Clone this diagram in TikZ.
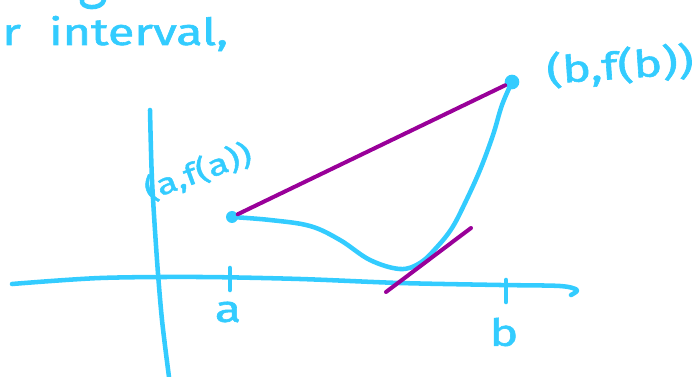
\documentclass[tikz,border=0pt]{standalone}
\usepackage{fontspec}
\newfontfamily\hand[FakeStretch=1.3, FakeBold=1.6]{Fira Sans}
\usetikzlibrary{positioning}

\definecolor{ink}{RGB}{51,204,255}
\definecolor{pen}{RGB}{153,0,153}

\begin{document}
\begin{tikzpicture}[
  x=0.75pt, y=-0.75pt,
  stroke/.style={
    draw=ink, line width=3.4pt,
    line cap=round, line join=round
  },
  secant/.style={
    draw=pen, line width=3pt,
    line cap=round, line join=round
  },
  dot/.style={
    circle, fill=ink, inner sep=0pt, minimum size=9pt
  },
  lbl/.style={
    text=ink, inner sep=0pt,
    font=\hand\fontsize{28}{30}\selectfont
  }
]
\useasboundingbox (0,0) rectangle (699,377);

% ─── Text from the line above ───────────────────────────────
\node[lbl, anchor=base west] (head) at (2,45) {r\hspace{0.75em}interval,};
\draw[stroke] (82,0) .. controls (80,9) and (102,10) .. (104,0);

% ─── Axes ───────────────────────────────────────────────────
\draw[stroke] plot[smooth] coordinates {(12,284) (100,278) (200,277)
  (300,279) (400,283) (500,285) (560,286) (577,290) (571,295)};
\draw[stroke] plot[smooth] coordinates {(150,110) (152,180) (157,260)
  (162,320) (169,377)};

\coordinate (ta) at (230,278);
\coordinate (tb) at (506,285);
\draw[stroke] (ta) ++(0,-10) -- ++(0,22);
\draw[stroke] (tb) ++(0,-5) -- ++(0,22);
\node[lbl] (la) at (228,312) {a};
\node[lbl] (lb) at (504,332) {b};

% ─── Function and end points ────────────────────────────────
\node[dot] (pa) at (232,217) {};
\node[dot, minimum size=11pt] (pb) at (512,82) {};

\draw[stroke] plot[smooth, tension=0.6] coordinates {(pa.center) (270,220)
  (310,226) (340,240) (370,260) (400,269) (420,263) (437,247) (452,228)
  (465,203) (480,170) (493,135) (502,105) (pb.center)};

\node[lbl, rotate=20, font=\hand\fontsize{22}{24}\selectfont]
  (fa) at (198,172) {(a,f(a))};
\node[lbl, rotate=4] (fb) at (620,66) {(b,f(b))};

% ─── Secant and tangent ─────────────────────────────────────
\draw[secant] (pa) -- (pb);
\coordinate (t1) at (386,292);
\coordinate (t2) at (471,228);
\draw[secant] (t1) -- (t2);

\end{tikzpicture}
\end{document}
